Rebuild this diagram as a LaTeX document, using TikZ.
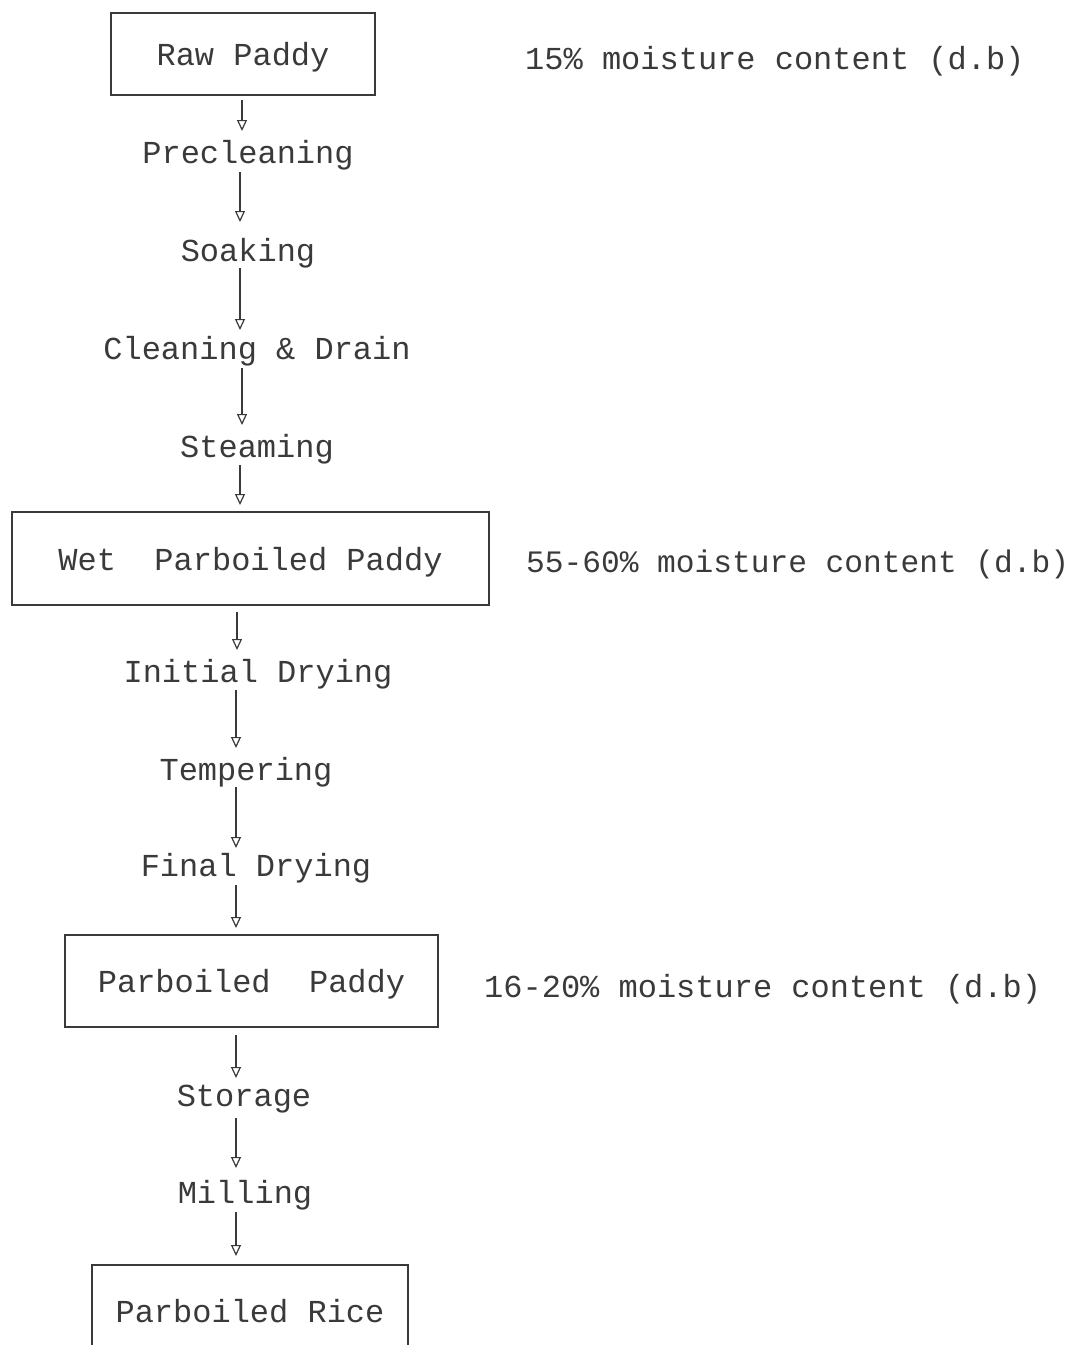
\documentclass[tikz,border=0pt]{standalone}
\usepackage{fontspec}
\setmonofont{Liberation Mono}
\usetikzlibrary{arrows.meta,calc}
\definecolor{ink}{HTML}{3A3A3A}
\begin{document}
\begin{tikzpicture}[x=1pt,y=-1pt,
  every node/.style={font=\ttfamily\fontsize{32}{38}\selectfont, text=ink},
  stepnode/.style={inner sep=0pt, text height=23pt, text depth=0pt},
  boxnode/.style={draw=ink, line width=1.3pt, inner sep=0pt, text height=23pt, text depth=0pt},
  note/.style={anchor=west, inner sep=0pt, text height=23pt, text depth=0pt},
  arr/.style={draw=ink, line width=1.2pt, -{Triangle[open,length=11pt,width=10pt]}}]
\useasboundingbox (0,0) rectangle (1084,1345);
\clip (0,0) rectangle (1084,1345);
\fill[white] (0,0) rectangle (1084,1345);

\node[boxnode, minimum width=264pt, minimum height=82pt] (raw) at (243,54) {Raw Paddy};
\node[note] (m1) at (525,58) {15\% moisture content (d.b)};
\node[stepnode] (pre) at (248,152) {Precleaning};
\node[stepnode] (soak) at (248,250) {Soaking};
\node[stepnode] (clean) at (257,348) {Cleaning \& Drain};
\node[stepnode] (steam) at (257,446) {Steaming};
\node[boxnode, minimum width=477pt, minimum height=93pt] (wet) at (250.5,558.5) {Wet\ \ Parboiled Paddy};
\node[note, font=\ttfamily\fontsize{31.2}{38}\selectfont] (m2) at (526,561) {55-60\% moisture content (d.b)};
\node[stepnode] (init) at (258,671) {Initial Drying};
\node[stepnode] (temp) at (246,769) {Tempering};
\node[stepnode] (final) at (256,865) {Final Drying};
\node[boxnode, minimum width=373pt, minimum height=92pt] (pp) at (251.5,981) {Parboiled\ \ Paddy};
\node[note] (m3) at (484,986) {16-20\% moisture content (d.b)};
\node[stepnode] (stor) at (244,1095) {Storage};
\node[stepnode] (mill) at (245,1192) {Milling};
\node[boxnode, minimum width=316pt, minimum height=92pt] (rice) at (250,1311) {Parboiled Rice};

\draw[arr] ($(raw.center)+(-1,46)$) -- ($(pre.center)+(-6,-21)$);
\draw[arr] ($(pre.center)+(-8,20)$) -- ($(soak.center)+(-8,-28)$);
\draw[arr] ($(soak.center)+(-8,18)$) -- ($(clean.center)+(-17,-18)$);
\draw[arr] ($(clean.center)+(-15,20)$) -- ($(steam.center)+(-15,-21)$);
\draw[arr] ($(steam.center)+(-17,19)$) -- ($(wet.center)+(-10.5,-53.5)$);
\draw[arr] ($(wet.center)+(-13.5,53.5)$) -- ($(init.center)+(-21,-21)$);
\draw[arr] ($(init.center)+(-22,19)$) -- ($(temp.center)+(-10,-21)$);
\draw[arr] ($(temp.center)+(-10,18)$) -- ($(final.center)+(-20,-17)$);
\draw[arr] ($(final.center)+(-20,20)$) -- ($(pp.center)+(-15.5,-53)$);
\draw[arr] ($(pp.center)+(-15.5,54)$) -- ($(stor.center)+(-8,-17)$);
\draw[arr] ($(stor.center)+(-8,23)$) -- ($(mill.center)+(-9,-24)$);
\draw[arr] ($(mill.center)+(-9,20)$) -- ($(rice.center)+(-14,-55)$);
\end{tikzpicture}
\end{document}
